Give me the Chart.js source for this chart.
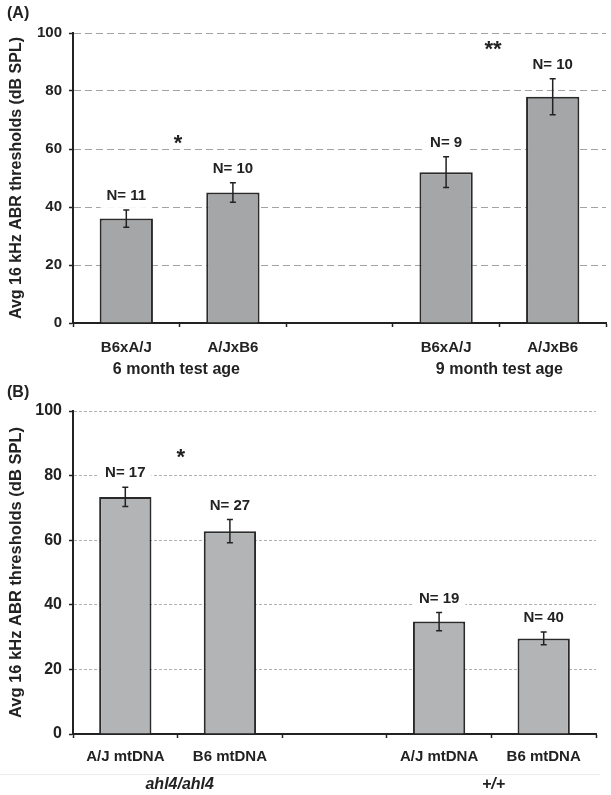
<!DOCTYPE html>
<html>
<head>
<meta charset="utf-8">
<script src="https://cdn.jsdelivr.net/npm/chart.js@4/dist/chart.umd.min.js"></script>
<style>
  body { margin: 0; background: #fff; width: 611px; height: 795px; overflow: hidden; position: relative; font-family: "Liberation Sans", Arial, sans-serif; }
  .panel { position: absolute; left: 0; }
  .tag { position: absolute; left: 7px; font-size: 16px; color: #222; font-weight: bold; }
</style>
</head>
<body>
<div class="panel" style="top:0"><canvas id="chartA" width="611" height="390"></canvas></div>
<div class="panel" style="top:390px"><canvas id="chartB" width="611" height="405"></canvas></div>
<div class="tag" style="top:4px">(A)</div>
<div class="tag" style="top:383px">(B)</div>
<script>
// panel A - reciprocal crosses
const catsA = ['B6xA/J', 'A/JxB6', '', 'B6xA/J', 'A/JxB6'];
const meansA = [36, 45, null, 52, 78];
const errA = [3, 3.4, null, 5.3, 6.2];
const nA = ['N= 11', 'N= 10', '', 'N= 9', 'N= 10'];
const groupsA = ['6 month test age', '9 month test age'];
const groupXA = [0.47, 3.5];
const starsA = ['*', '**'];
const starXA = [0.485, 3.44];
const starYA = [61.7, 94.1];

// panel B - mtDNA
const catsB = ['A/J mtDNA', 'B6 mtDNA', '', 'A/J mtDNA', 'B6 mtDNA'];
const meansB = [73.4, 62.8, null, 34.8, 29.6];
const errB = [3, 3.6, null, 2.8, 2];
const nB = ['N= 17', 'N= 27', '', 'N= 19', 'N= 40'];
const groupsB = ['ahl4/ahl4', '+/+'];
const groupXB = [0.52, 3.52];
const starsB = ['*'];
const starXB = [0.53];
const starYB = [85.4];

const yTitle = 'Avg 16 kHz ABR thresholds (dB SPL)';
const FONT = '"Liberation Sans", Arial, sans-serif';

// error bars, N= labels, stars and group names
const extras = {
  id: 'extras',
  afterDatasetsDraw(chart, args, o) {
    const ctx = chart.ctx;
    const xs = chart.scales.x, ys = chart.scales.y;
    const meta = chart.getDatasetMeta(0);
    const data = chart.data.datasets[0].data;
    ctx.save();
    data.forEach((m, i) => {
      if (m == null) return;
      const cx = meta.data[i].x;
      const t = ys.getPixelForValue(m + o.errs[i]);
      const b = ys.getPixelForValue(m - o.errs[i]);
      ctx.strokeStyle = '#222';
      ctx.lineWidth = 1.5;
      ctx.beginPath();
      ctx.moveTo(cx, t); ctx.lineTo(cx, b);
      ctx.moveTo(cx - 3, t); ctx.lineTo(cx + 3, t);
      ctx.moveTo(cx - 3, b); ctx.lineTo(cx + 3, b);
      ctx.stroke();

      ctx.font = 'bold 15px ' + FONT;
      const w = ctx.measureText(o.ns[i]).width;
      const ly = t - 14;
      ctx.fillStyle = '#fff';
      ctx.fillRect(cx - w / 2 - 6, ly - 10, w + 12, 22);
      ctx.fillStyle = '#222';
      ctx.textAlign = 'center';
      ctx.textBaseline = 'middle';
      ctx.fillText(o.ns[i], cx, ly);
    });

    ctx.font = 'bold 22px ' + FONT;
    ctx.fillStyle = '#222';
    ctx.textAlign = 'center';
    ctx.textBaseline = 'middle';
    o.stars.forEach((s, i) => {
      ctx.fillText(s, xs.getPixelForValue(o.starX[i]), ys.getPixelForValue(o.starY[i]));
    });

    if (o.rule) {
      ctx.strokeStyle = '#ececec';
      ctx.lineWidth = 1;
      ctx.beginPath();
      ctx.moveTo(0, ys.bottom + o.rule + 0.5);
      ctx.lineTo(600, ys.bottom + o.rule + 0.5);
      ctx.stroke();
    }

    ctx.font = o.groupFont + ' ' + FONT;
    o.groups.forEach((g, i) => {
      ctx.fillText(g, xs.getPixelForValue(o.groupX[i]), ys.bottom + o.groupY);
    });
    ctx.restore();
  }
};

function makeChart(id, cats, means, o) {
  return new Chart(document.getElementById(id), {
    type: 'bar',
    data: {
      labels: cats,
      datasets: [{
        data: means,
        backgroundColor: o.fill,
        borderColor: '#2a2a2a',
        borderWidth: 2,
        barPercentage: 0.5,
        categoryPercentage: 1
      }]
    },
    options: {
      responsive: false,
      animation: false,
      events: [],
      layout: { padding: o.padding },
      plugins: {
        legend: { display: false },
        tooltip: { enabled: false },
        extras: o.extras
      },
      scales: {
        x: {
          afterFit: s => { s.height = 50; },
          grid: { display: true, drawOnChartArea: false, tickLength: 4, tickColor: '#222', tickWidth: 1.5, offset: true },
          border: { display: true, color: '#222', width: 2 },
          ticks: { color: '#222', font: { family: FONT, size: o.xSize, weight: 'bold' }, padding: o.xPad, maxRotation: 0, autoSkip: false }
        },
        y: {
          min: 0,
          max: 100,
          afterFit: s => { s.width = 73; },
          ticks: { stepSize: 20, color: '#222', font: { family: FONT, size: o.ySize, weight: 'bold' }, padding: 7 },
          grid: { color: o.gridColor, lineWidth: 1, tickLength: 4, tickColor: '#222', tickWidth: 1.5, tickBorderDash: [] },
          border: { display: true, color: '#222', width: 2, dash: o.dash },
          title: { display: true, text: yTitle, color: '#222', font: { family: FONT, size: o.titleSize, weight: 'bold' }, padding: { top: 7, bottom: 0 } }
        }
      }
    },
    plugins: [extras]
  });
}

makeChart('chartA', catsA, meansA, {
  fill: '#a5a6a8',
  padding: { top: 33, right: 5, bottom: 17, left: 0 },
  xSize: 15, ySize: 15, titleSize: 16, xPad: 12,
  gridColor: '#a3a3a3', dash: [7, 4],
  extras: { errs: errA, ns: nA, stars: starsA, starX: starXA, starY: starYA, groups: groupsA, groupX: groupXA, groupY: 47, groupFont: 'bold 16px' }
});

makeChart('chartB', catsB, meansB, {
  fill: '#b3b4b6',
  padding: { top: 21, right: 15, bottom: 11, left: 0 },
  xSize: 15, ySize: 16, titleSize: 16.5, xPad: 10,
  gridColor: '#b0b0b0', dash: [3, 2],
  extras: { errs: errB, ns: nB, stars: starsB, starX: starXB, starY: starYB, groups: groupsB, groupX: groupXB, groupY: 51, groupFont: 'italic bold 16px', rule: 40 }
});
</script>
</body>
</html>
